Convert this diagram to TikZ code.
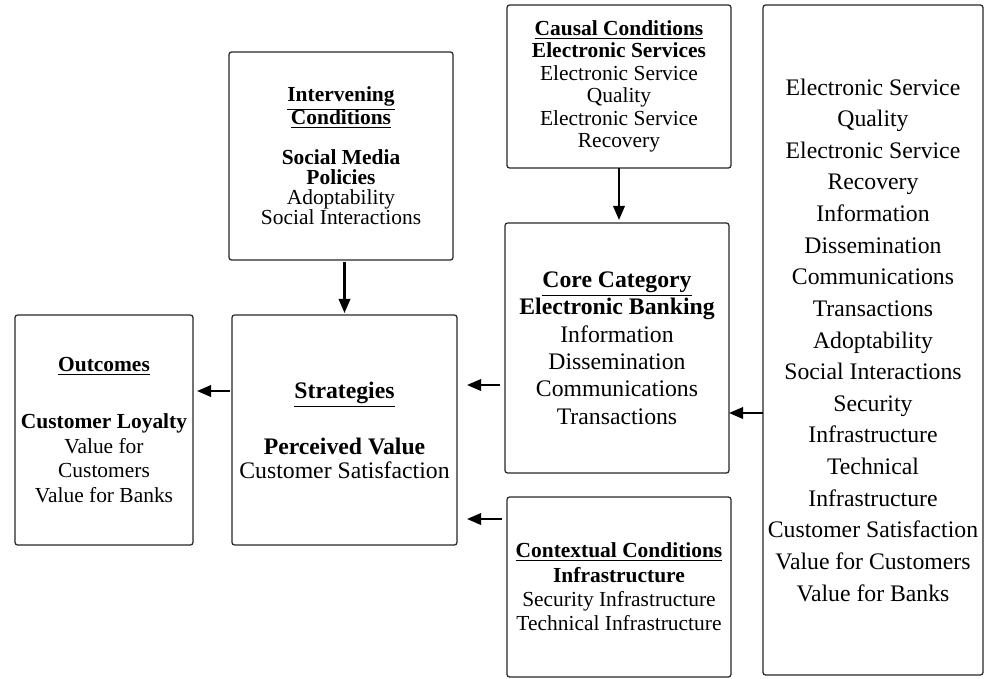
\documentclass[tikz,border=0pt]{standalone}
\usepackage{fontspec}
\setmainfont{Liberation Serif}
\usetikzlibrary{arrows.meta, positioning}

\tikzset{
    box/.style={draw=black!85, line width=0.7pt, rounded corners=1.5pt,
        align=center, inner sep=0pt, outer sep=0pt},
    arr/.style={-{Triangle[length=8pt, width=6.5pt]}, line width=1.3pt},
}
\newcommand{\hd}[1]{\underline{\textbf{#1}}}

\begin{document}
\begin{tikzpicture}
    \useasboundingbox (0, 0) rectangle (20, -13.56);

    % boxes
    \node[box, minimum width=4.48cm, minimum height=3.26cm,
        font=\fontsize{12.2pt}{12.8pt}\selectfont] (causal) at (12.38, -1.73)
        {\hd{Causal Conditions}\\ \textbf{Electronic Services}\\ Electronic Service\\
         Quality\\ Electronic Service\\ Recovery};
    \node[box, minimum width=4.48cm, minimum height=4.16cm,
        font=\fontsize{12.2pt}{11.4pt}\selectfont] (interv) at (6.82, -3.12)
        {\hd{Intervening}\\[-0.04cm] \hd{Conditions}\\[0.4cm] \textbf{Social Media}\\
         \textbf{Policies}\\ Adoptability\\ Social Interactions};
    \node[box, minimum width=4.48cm, minimum height=5cm,
        font=\fontsize{13.5pt}{15.6pt}\selectfont] (core) at (12.34, -6.96)
        {\hd{Core Category}\\ \textbf{Electronic Banking}\\ Information\\
         Dissemination\\ Communications\\ Transactions};
    \node[box, minimum width=4.5cm, minimum height=4.6cm,
        font=\fontsize{13.5pt}{13.6pt}\selectfont] (strat) at (6.89, -8.6)
        {\hd{Strategies}\\[0.58cm] \textbf{Perceived Value}\\ Customer Satisfaction};
    \node[box, minimum width=3.56cm, minimum height=4.6cm,
        font=\fontsize{12.2pt}{13.9pt}\selectfont] (outc) at (2.08, -8.6)
        {\hd{Outcomes}\\[0.65cm] \textbf{Customer Loyalty}\\ Value for\\
         Customers\\ Value for Banks};
    \node[box, minimum width=4.48cm, minimum height=3.6cm,
        font=\fontsize{12.2pt}{13.9pt}\selectfont] (context) at (12.38, -11.74)
        {\hd{Contextual Conditions}\\ \textbf{Infrastructure}\\
         Security Infrastructure\\ Technical Infrastructure};
    \node[box, minimum width=4.4cm, minimum height=13.4cm,
        font=\fontsize{13.5pt}{18pt}\selectfont] (codes) at (17.46, -6.8)
        {Electronic Service\\ Quality\\ Electronic Service\\ Recovery\\
         Information\\ Dissemination\\ Communications\\ Transactions\\
         Adoptability\\ Social Interactions\\ Security\\ Infrastructure\\
         Technical\\ Infrastructure\\ Customer Satisfaction\\
         Value for Customers\\ Value for Banks};

    % arrows
    \draw[arr, shorten >=0.06cm] (causal.south) -- (causal.south |- core.north);
    \draw[arr, shorten <=0.04cm, shorten >=0.04cm] (strat.north |- interv.south) -- (strat.north);
    \draw[arr, shorten <=0.1cm, shorten >=0.2cm]
        ([yshift=-0.74cm]core.west) -- ([yshift=-0.74cm]core.west -| strat.east);
    \draw[arr, shorten <=0.1cm, shorten >=0.2cm]
        ([yshift=1.36cm]context.west) -- ([yshift=1.36cm]context.west -| strat.east);
    \draw[arr, shorten <=0.04cm, shorten >=0.08cm]
        ([yshift=0.78cm]strat.west) -- ([yshift=0.78cm]strat.west -| outc.east);
    \draw[arr]
        ([yshift=-1.46cm]codes.west) -- ([yshift=-1.46cm]codes.west -| core.east);
\end{tikzpicture}
\end{document}
